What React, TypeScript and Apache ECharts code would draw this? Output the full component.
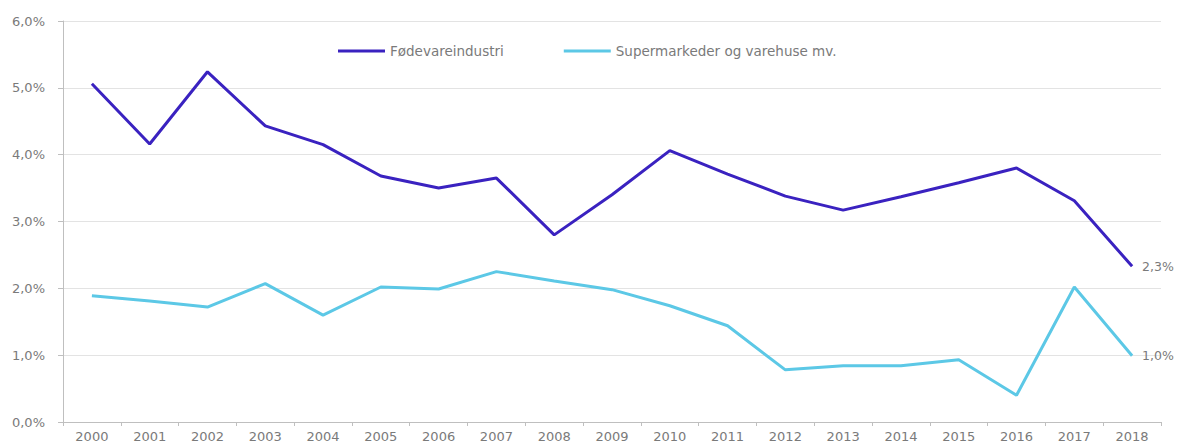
import React, { useEffect, useRef } from "react";
import * as echarts from "echarts";

const years = ["2000","2001","2002","2003","2004","2005","2006","2007","2008","2009","2010","2011","2012","2013","2014","2015","2016","2017","2018"];
const foedevare = [5.06,4.16,5.24,4.43,4.15,3.68,3.50,3.65,2.80,3.40,4.06,3.71,3.38,3.17,3.37,3.58,3.80,3.31,2.33];
const supermarked = [1.89,1.81,1.72,2.07,1.60,2.02,1.99,2.25,2.11,1.98,1.74,1.44,0.78,0.84,0.84,0.93,0.40,2.02,0.99];
const seriesNames = ["Fødevareindustri", "Supermarkeder og varehuse mv."];
const colors = ["#3a22c0", "#5cc8e6"];

const FONT = "DejaVu Sans";
const TEXT_COLOR = "#7a7a7a";
const fmt = (v: number) => v.toFixed(1).replace(".", ",") + "%";

export default function App() {
  const ref = useRef<HTMLDivElement>(null);
  useEffect(() => {
    const chart = echarts.init(ref.current!, null, { renderer: "svg" });
    const endLabel = {
      show: true,
      distance: 10,
      formatter: (p: any) => fmt(p.value as number),
      color: TEXT_COLOR,
      fontSize: 12.5,
      fontFamily: FONT,
    };
    chart.setOption({
      animation: false,
      backgroundColor: "#ffffff",
      textStyle: { fontFamily: FONT },
      legend: {
        top: 39,
        left: 333,
        itemGap: 60,
        itemWidth: 47,
        itemHeight: 3,
        icon: "rect",
        textStyle: { color: TEXT_COLOR, fontSize: 13.5, fontFamily: FONT },
        data: seriesNames,
      },
      grid: { left: 63, right: 17, top: 21, bottom: 22 },
      xAxis: {
        type: "category",
        data: years,
        boundaryGap: true,
        axisLine: { lineStyle: { color: "#bfbfbf" } },
        axisTick: { show: true, length: 4, lineStyle: { color: "#bfbfbf" } },
        axisLabel: { color: TEXT_COLOR, fontSize: 13, fontFamily: FONT, margin: 8 },
      },
      yAxis: {
        type: "value",
        min: 0,
        max: 6,
        interval: 1,
        axisLine: { show: true, lineStyle: { color: "#bfbfbf" } },
        axisTick: { show: true, inside: false, length: 5, lineStyle: { color: "#bfbfbf" } },
        axisLabel: { color: TEXT_COLOR, fontSize: 13, fontFamily: FONT, margin: 18, formatter: (v: number) => fmt(v) },
        splitLine: { lineStyle: { color: "#e3e3e3" } },
      },
      series: [
        {
          name: seriesNames[0],
          type: "line",
          data: foedevare,
          symbol: "none",
          lineStyle: { width: 3, color: colors[0] },
          itemStyle: { color: colors[0] },
          endLabel,
        },
        {
          name: seriesNames[1],
          type: "line",
          data: supermarked,
          symbol: "none",
          lineStyle: { width: 3, color: colors[1] },
          itemStyle: { color: colors[1] },
          endLabel,
        },
      ],
    });
    return () => chart.dispose();
  }, []);
  return <div ref={ref} style={{ position: "fixed", left: 0, top: 0, width: 1178, height: 444 }} />;
}
